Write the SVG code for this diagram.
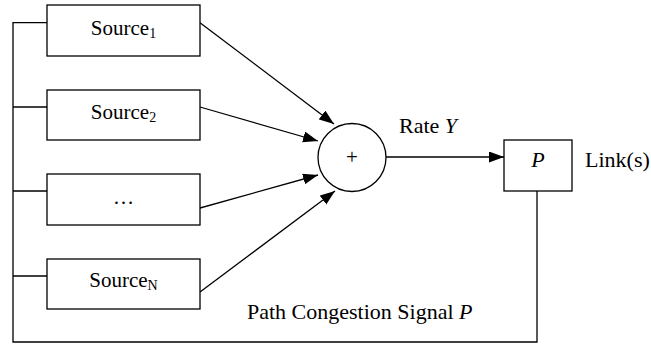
<svg xmlns="http://www.w3.org/2000/svg" width="651" height="344" viewBox="0 0 651 344">
<style>
.box{fill:#fff;stroke:#000;stroke-width:1.3}
.ln{fill:none;stroke:#000;stroke-width:1.3}
.t{font-family:"Liberation Serif","Times New Roman",serif;font-size:21px;fill:#000}
.lb{font-size:22px}
.sub{font-size:14px}
.it{font-style:italic}
</style>
<defs>
<marker id="ah" markerUnits="userSpaceOnUse" markerWidth="16" markerHeight="12" refX="15" refY="5.5" orient="auto">
<path d="M0,0 L15,5.5 L0,11 z" fill="#000"/>
</marker>
</defs>
<g id="connectors">
<polyline class="ln" points="537,191 537,342 13,342 13,22.7 47,22.7"/>
<line class="ln" x1="13" y1="107" x2="47" y2="107"/>
<line class="ln" x1="13" y1="191" x2="47" y2="191"/>
<line class="ln" x1="13" y1="276" x2="47" y2="276"/>
<line class="ln" x1="200" y1="22.7" x2="334" y2="124" marker-end="url(#ah)"/>
<line class="ln" x1="200" y1="107" x2="318" y2="141" marker-end="url(#ah)"/>
<line class="ln" x1="200" y1="208" x2="318" y2="175" marker-end="url(#ah)"/>
<line class="ln" x1="200" y1="292" x2="335" y2="191" marker-end="url(#ah)"/>
<line class="ln" x1="386" y1="157" x2="504" y2="157" marker-end="url(#ah)"/>
<text class="t lb" x="399" y="133">Rate <tspan class="it">Y</tspan></text>
<text class="t lb" x="247" y="319">Path Congestion Signal <tspan class="it">P</tspan></text>
</g>
<g id="source1">
<rect class="box" x="47" y="5" width="153" height="51"/>
<text class="t" x="123.5" y="35" text-anchor="middle">Source<tspan class="sub" dy="3">1</tspan></text>
</g>
<g id="source2">
<rect class="box" x="47" y="90" width="153" height="50"/>
<text class="t" x="123.5" y="119" text-anchor="middle">Source<tspan class="sub" dy="3">2</tspan></text>
</g>
<g id="sourceDots">
<rect class="box" x="47" y="174" width="153" height="51"/>
<text class="t" x="123.5" y="204" text-anchor="middle">…</text>
</g>
<g id="sourceN">
<rect class="box" x="47" y="259" width="153" height="50"/>
<text class="t" x="123.5" y="287" text-anchor="middle">Source<tspan class="sub" dy="3">N</tspan></text>
</g>
<g id="sum">
<circle class="box" cx="352" cy="157.5" r="34"/>
<text class="t" x="352" y="164" text-anchor="middle">+</text>
</g>
<g id="link">
<rect class="box" x="504" y="140" width="68" height="51"/>
<text class="t lb it" x="538" y="167" text-anchor="middle">P</text>
<text class="t lb" x="585" y="167">Link(s)</text>
</g>
</svg>
